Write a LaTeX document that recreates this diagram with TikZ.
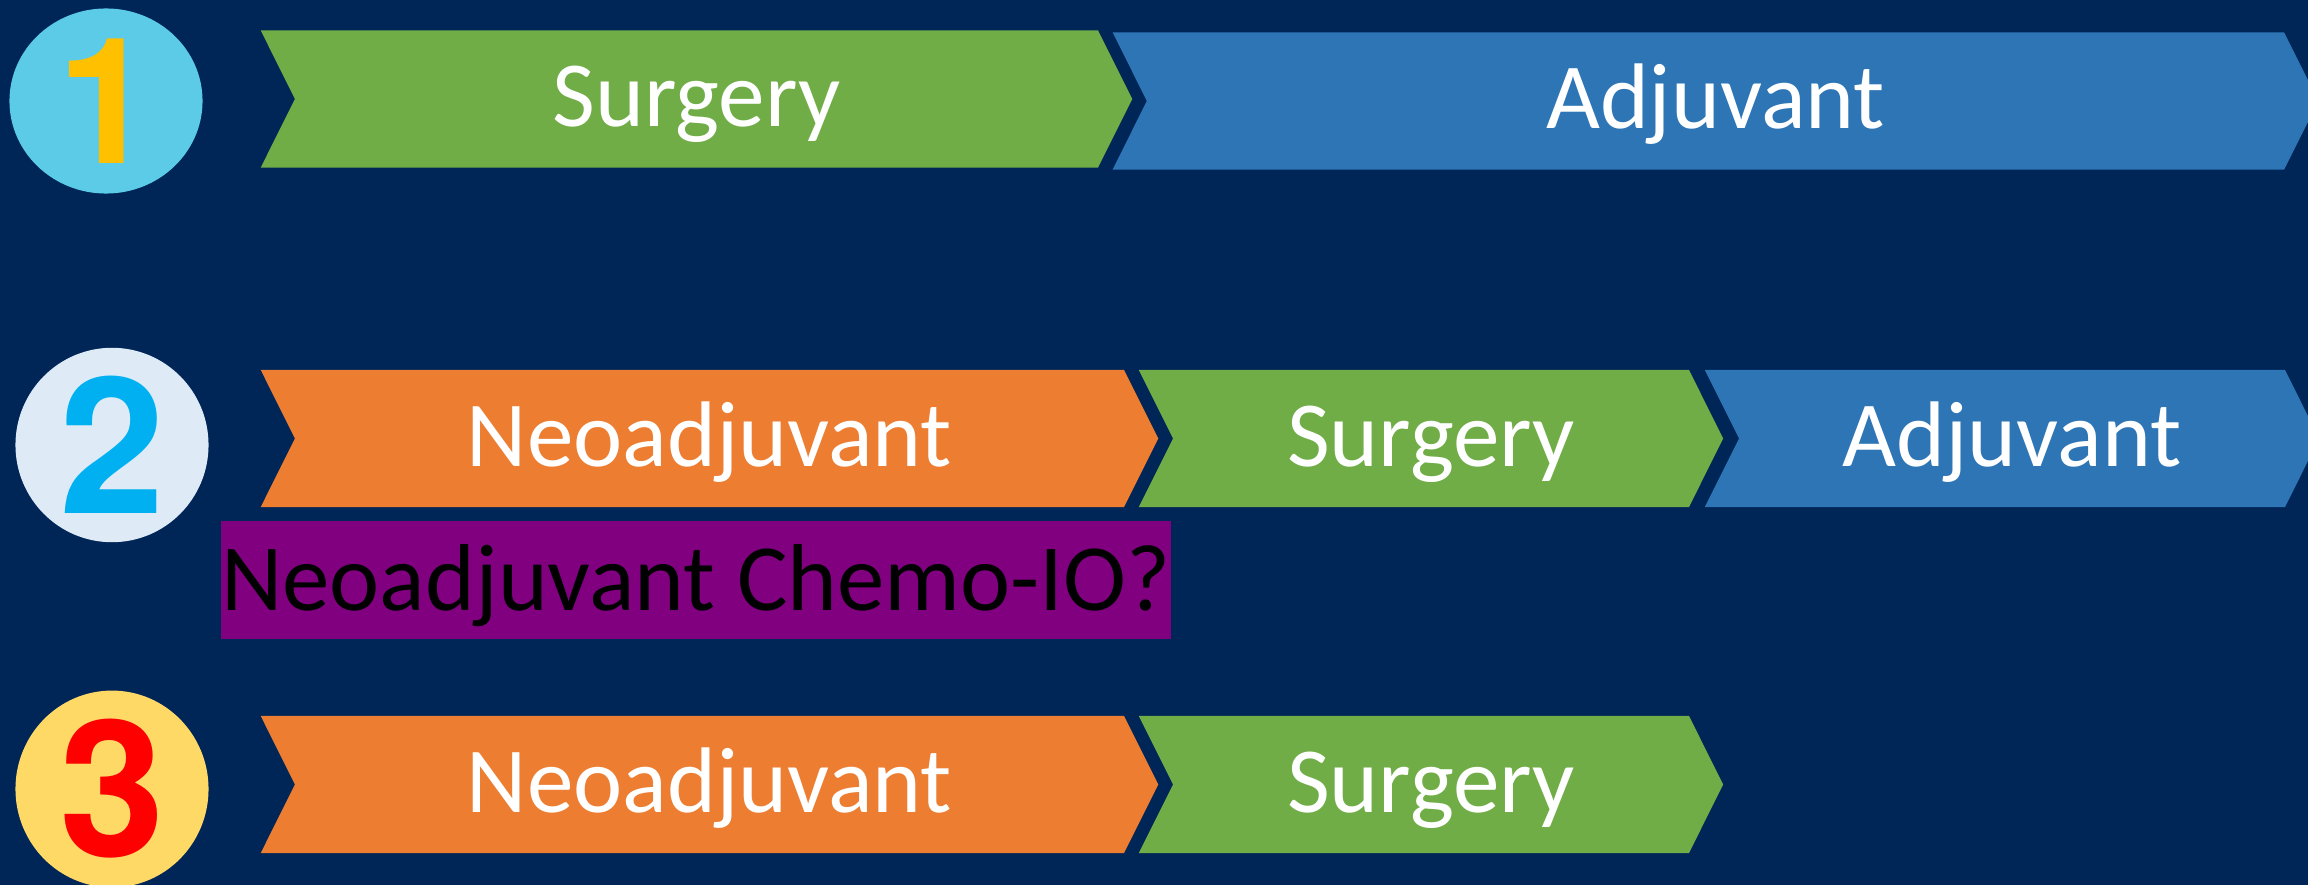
\documentclass[tikz,border=0pt]{standalone}
\usepackage{fontspec}
\setmainfont{Carlito}
\newfontfamily\numfont{TeX Gyre Heros}
\usetikzlibrary{shapes.symbols,shapes.geometric}

\definecolor{navy}{HTML}{002557}
\definecolor{cyanbadge}{HTML}{5BCBE8}
\definecolor{palebadge}{HTML}{DEEBF7}
\definecolor{sandbadge}{HTML}{FFD966}
\definecolor{gold}{HTML}{FFC000}
\definecolor{skyblue}{HTML}{00B0F0}
\definecolor{surggreen}{HTML}{70AD47}
\definecolor{adjblue}{HTML}{2E75B6}
\definecolor{neoorange}{HTML}{ED7D31}
\definecolor{chemopurple}{HTML}{800080}

\tikzset{
  phase/.style={signal,
                signal to=east,
                signal from=west,
                signal pointer angle=127,
                inner sep=0pt,
                minimum height=1.37cm,
                text=white,
                text height=0.55cm,
                text depth=0pt,
                font=\fontsize{26.5}{32}\selectfont},
  badge/.style={ellipse,
                inner sep=0pt,
                minimum width=1.93cm,
                minimum height=1.93cm,
                font=\numfont\bfseries\fontsize{54}{60}\selectfont}
}

\begin{document}
\begin{tikzpicture}[x=0.01cm,y=-0.01cm]

      \fill[navy] (0,0) rectangle (2308,885);
      \useasboundingbox (0,0) rectangle (2308,885);

      % option 1
      \node[badge,
            fill = cyanbadge,
            text = gold,
            minimum height = 1.85cm,
            font = \numfont\bfseries\fontsize{50}{56}\selectfont] (one) at (106,101) {1};

      \node[phase,
            fill = surggreen,
            minimum width = 8.71cm] (s1) at (696.5,99) {Surgery};

      \node[phase,
            fill = adjblue,
            minimum width = 12.05cm] (a1) at (1715.5,101) {Adjuvant};

      % option 2
      \node[badge,
            fill = palebadge,
            text = skyblue] (two) at (112,445) {2};

      \node[phase,
            fill = neoorange,
            minimum width = 8.97cm] (n2) at (709.5,438.5) {Neoadjuvant};

      \node[phase,
            fill = surggreen,
            minimum width = 5.84cm] (s2) at (1431,438.5) {Surgery};

      \node[phase,
            fill = adjblue,
            minimum width = 6.14cm] (a2) at (2012,438.5) {Adjuvant};

      \node[rectangle,
            fill = chemopurple,
            inner sep = 0pt,
            minimum width = 9.48cm,
            minimum height = 1.18cm,
            text height = 0.6cm,
            text depth = 0pt,
            font = \fontsize{27}{32}\selectfont] (q) at (696,580) {Neoadjuvant Chemo-IO?};

      % option 3
      \node[badge,
            fill = sandbadge,
            text = red] (three) at (112,789) {3};

      \node[phase,
            fill = neoorange,
            minimum width = 8.97cm] (n3) at (709.5,784.5) {Neoadjuvant};

      \node[phase,
            fill = surggreen,
            minimum width = 5.84cm] (s3) at (1431,784.5) {Surgery};

\end{tikzpicture}
\end{document}
